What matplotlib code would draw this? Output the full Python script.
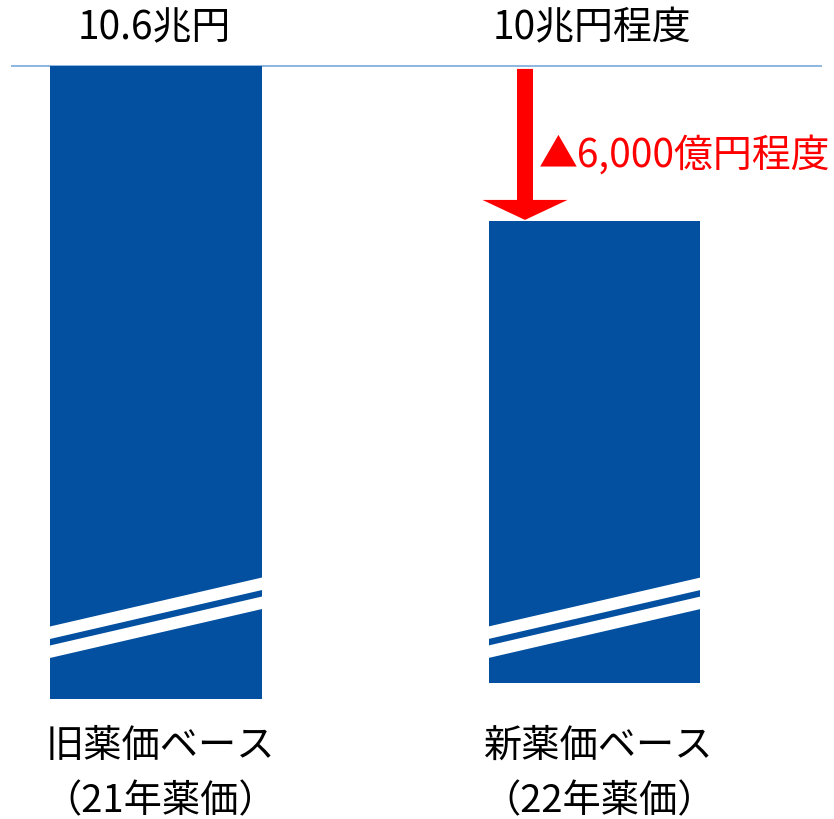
import numpy as np
import matplotlib
matplotlib.use("Agg")
import matplotlib.pyplot as plt
from matplotlib.patches import Polygon

plt.rcParams['font.family'] = ['Noto Sans CJK JP', 'DejaVu Sans']

# data (兆円)
values = [10.6, 10.0]
bar_base = [8.15, 8.21]          # visual baseline of the broken bars
top_labels = ["10.6兆円", "10兆円程度"]
cat_line1 = ["旧薬価ベース", "新薬価ベース"]
cat_line2 = ["（21年薬価）", "（22年薬価）"]
diff_label = "▲6,000億円程度"

BLUE = "#0350A0"
RED = "#FF0000"
LINE = "#8DB4E2"

fig = plt.figure(figsize=(8.34, 8.2), dpi=100)
ax = fig.add_axes([0, 0, 1, 1])
ax.set_xlim(-0.3558, 1.5462)
ax.set_ylim(7.685, 10.859)
ax.axis("off")

x = np.arange(len(values))
heights = [v - b for v, b in zip(values, bar_base)]
ax.bar(x, heights, bottom=bar_base, width=0.483, color=BLUE, zorder=2)

# reference line at the old total
ax.axhline(values[0], xmin=0.0144, xmax=0.984, color=LINE, lw=1.4, zorder=1)

# break marks (white slanted stripes)
px_y = (10.859 - 7.685) / 820  # data units per pixel (vertical)
half_w = 0.483 / 2
rise = 48.5 * px_y
thick = 12.5 * px_y
for xi in x:
    x0, x1 = xi - half_w - 0.01, xi + half_w + 0.01
    for low in (8.378, 8.378 - 19 * px_y):
        poly = Polygon([(x0, low), (x1, low + rise * 1.05),
                        (x1, low + rise * 1.05 + thick), (x0, low + thick)],
                       closed=True, color="white", lw=0, zorder=3)
        ax.add_patch(poly)

# value labels above the line
for xi, lab in zip(x, top_labels):
    ax.annotate(lab, xy=(xi - 0.005, values[0]), xytext=(0, 28), textcoords="offset points",
                ha="center", va="center", fontsize=28, color="black")

# arrow showing the reduction
ax_x = x[1] - 0.1585
ax.arrow(ax_x, values[0] - 3 * px_y, 0, (values[1] + px_y) - (values[0] - 3 * px_y),
         width=0.0365, head_width=0.194, head_length=20 * px_y,
         length_includes_head=True, color=RED, lw=0, zorder=4)
ax.annotate(diff_label, xy=(ax_x, (values[0] + values[1]) / 2),
            xytext=(10, -8), textcoords="offset points",
            ha="left", va="center", fontsize=28, color=RED)

# category labels below
for xi, l1, l2 in zip(x, cat_line1, cat_line2):
    ax.text(xi + 0.01, 7.685 + 74 * px_y, l1, ha="center", va="center",
            fontsize=27.5, color="black")
    ax.text(xi + 0.01, 7.685 + 18 * px_y, l2, ha="center", va="center",
            fontsize=27.5, color="black")

fig.savefig("out.png", dpi=100)
